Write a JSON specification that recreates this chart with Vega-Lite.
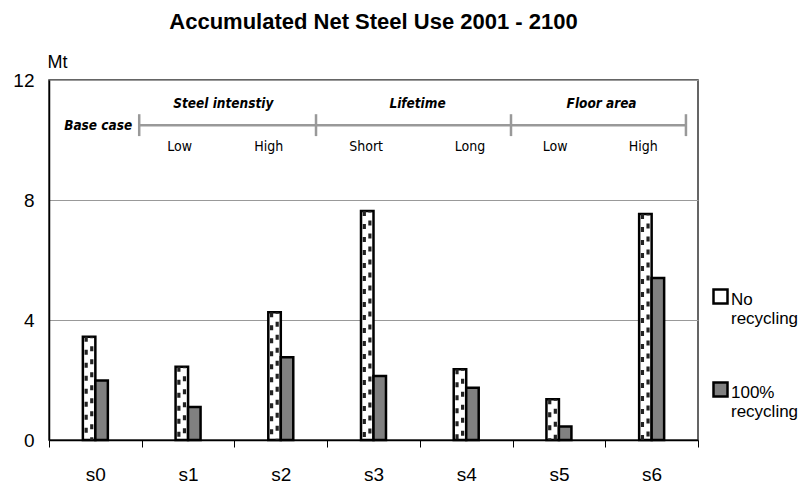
{
  "$schema": "https://vega.github.io/schema/vega-lite/v6.json",
  "width": 649,
  "height": 360,
  "autosize": {"type": "none"},
  "padding": {"left": 49, "top": 80, "right": 102, "bottom": 46},
  "config": {
    "font": "Liberation Sans",
    "view": {"stroke": "#333333", "strokeWidth": 1.5},
    "axis": {"labelColor": "black", "labelFont": "Liberation Sans"}
  },
  "title": {
    "text": "Accumulated Net Steel Use 2001 - 2100",
    "font": "Liberation Sans",
    "fontSize": 22,
    "fontWeight": "bold",
    "color": "black",
    "anchor": "middle",
    "offset": 19
  },
  "datasets": {
    "bars": [
      {"scenario": "s0", "series": "No recycling", "value": 3.44},
      {"scenario": "s1", "series": "No recycling", "value": 2.44},
      {"scenario": "s2", "series": "No recycling", "value": 4.26},
      {"scenario": "s3", "series": "No recycling", "value": 7.63},
      {"scenario": "s4", "series": "No recycling", "value": 2.36},
      {"scenario": "s5", "series": "No recycling", "value": 1.36},
      {"scenario": "s6", "series": "No recycling", "value": 7.53},
      {"scenario": "s0", "series": "100% recycling", "value": 1.98},
      {"scenario": "s1", "series": "100% recycling", "value": 1.1},
      {"scenario": "s2", "series": "100% recycling", "value": 2.76},
      {"scenario": "s3", "series": "100% recycling", "value": 2.13},
      {"scenario": "s4", "series": "100% recycling", "value": 1.74},
      {"scenario": "s5", "series": "100% recycling", "value": 0.45},
      {"scenario": "s6", "series": "100% recycling", "value": 5.4}
    ],
    "labels": [
      {"label": "Base case", "kind": "group", "px": 0.53, "py": 10.46},
      {"label": "Steel intenstiy", "kind": "group", "px": 1.88, "py": 11.19},
      {"label": "Lifetime", "kind": "group", "px": 3.975, "py": 11.19},
      {"label": "Floor area", "kind": "group", "px": 5.96, "py": 11.19},
      {"label": "Low", "kind": "sub", "px": 1.41, "py": 9.78},
      {"label": "High", "kind": "sub", "px": 2.37, "py": 9.78},
      {"label": "Short", "kind": "sub", "px": 3.42, "py": 9.78},
      {"label": "Long", "kind": "sub", "px": 4.54, "py": 9.78},
      {"label": "Low", "kind": "sub", "px": 5.46, "py": 9.78},
      {"label": "High", "kind": "sub", "px": 6.41, "py": 9.78}
    ],
    "lines": [
      {"x1": 0.973, "x2": 6.87, "y1": 10.49, "y2": 10.49},
      {"x1": 0.973, "x2": 0.973, "y1": 10.13, "y2": 10.86},
      {"x1": 2.88, "x2": 2.88, "y1": 10.13, "y2": 10.86},
      {"x1": 4.983, "x2": 4.983, "y1": 10.13, "y2": 10.86},
      {"x1": 6.87, "x2": 6.87, "y1": 10.13, "y2": 10.86}
    ]
  },
  "layer": [
    {
      "data": {"name": "bars"},
      "encoding": {
        "x": {
          "field": "scenario",
          "type": "nominal",
          "scale": {"paddingInner": 0, "paddingOuter": 0},
          "axis": {
            "title": null,
            "labelAngle": 0,
            "tickBand": "extent",
            "tickSize": 7,
            "tickColor": "black",
            "domainColor": "black",
            "domainWidth": 1.5,
            "labelFontSize": 19,
            "labelPadding": 18,
            "grid": false
          }
        },
        "y": {
          "field": "value",
          "type": "quantitative",
          "scale": {"domain": [0, 12]},
          "axis": {
            "title": "Mt",
            "titleAngle": 0,
            "titleAlign": "left",
            "titleBaseline": "middle",
            "titleX": -2,
            "titleY": -18,
            "titleFontSize": 18,
            "titleFontWeight": "normal",
            "titleColor": "black",
            "values": [0, 4, 8, 12],
            "ticks": false,
            "labelPadding": 15,
            "labelFontSize": 19,
            "domainColor": "black",
            "domainWidth": 1.5,
            "gridColor": "#999999",
            "gridWidth": 1.2
          }
        }
      },
      "layer": [
        {
          "mark": {"type": "bar", "stroke": "black", "strokeWidth": 2.5},
          "encoding": {
            "xOffset": {
              "field": "series",
              "type": "nominal",
              "scale": {"domain": ["pad1", "pad2", "No recycling", "100% recycling", "pad3", "pad4"], "paddingInner": 0, "paddingOuter": 0.71}
            },
            "fill": {
              "field": "series",
              "type": "nominal",
              "scale": {"domain": ["No recycling", "100% recycling"], "range": ["white", "#808080"]},
              "legend": {
                "title": null,
                "orient": "none",
                "legendX": 663,
                "legendY": 203,
                "padding": 0,
                "symbolType": "M-1,-0.3L1,-0.3L1,1.7L-1,1.7Z",
                "symbolSize": 196,
                "symbolStrokeColor": "black",
                "symbolStrokeWidth": 2.5,
                "labelFontSize": 17,
                "labelColor": "black",
                "labelOffset": 2,
                "labelLimit": 200,
                "labelBaseline": "top",
                "rowPadding": 49,
                "labelExpr": "split(datum.label, ' ')"
              }
            }
          }
        },
        {
          "transform": [{"filter": "datum.series === 'No recycling'"}],
          "mark": {"type": "rule", "color": "#222222", "strokeWidth": 3.2, "strokeDash": [5, 8], "xOffset": -9.2},
          "encoding": {"y2": {"datum": 0}}
        },
        {
          "transform": [{"filter": "datum.series === 'No recycling'"}],
          "mark": {"type": "rule", "color": "#222222", "strokeWidth": 3.2, "strokeDash": [5, 8], "strokeDashOffset": 3.5, "xOffset": -3.6},
          "encoding": {"y2": {"datum": 0}}
        }
      ]
    },
    {
      "layer": [
        {
          "data": {"name": "lines"},
          "mark": {"type": "rule", "color": "#999999", "strokeWidth": 2.5},
          "encoding": {
            "x": {"field": "x1", "type": "quantitative", "scale": {"domain": [0, 7]}, "axis": null},
            "x2": {"field": "x2"},
            "y": {"field": "y1", "type": "quantitative", "scale": {"domain": [0, 12]}},
            "y2": {"field": "y2"}
          }
        },
        {
          "data": {"name": "labels"},
          "transform": [{"filter": "datum.kind === 'group'"}],
          "mark": {"type": "text", "font": "'Liberation Sans Narrow', 'DejaVu Sans Condensed', Roboto, sans-serif", "fontSize": 13.5, "fontWeight": "bold", "fontStyle": "italic", "color": "black", "align": "center", "baseline": "middle"},
          "encoding": {
            "x": {"field": "px", "type": "quantitative", "scale": {"domain": [0, 7]}, "axis": null},
            "y": {"field": "py", "type": "quantitative", "scale": {"domain": [0, 12]}},
            "text": {"field": "label"}
          }
        },
        {
          "data": {"name": "labels"},
          "transform": [{"filter": "datum.kind === 'sub'"}],
          "mark": {"type": "text", "font": "'Liberation Sans Narrow', 'DejaVu Sans Condensed', Roboto, sans-serif", "fontSize": 14, "color": "black", "align": "center", "baseline": "middle"},
          "encoding": {
            "x": {"field": "px", "type": "quantitative", "scale": {"domain": [0, 7]}, "axis": null},
            "y": {"field": "py", "type": "quantitative", "scale": {"domain": [0, 12]}},
            "text": {"field": "label"}
          }
        }
      ]
    }
  ],
  "resolve": {"scale": {"x": "independent"}}
}
